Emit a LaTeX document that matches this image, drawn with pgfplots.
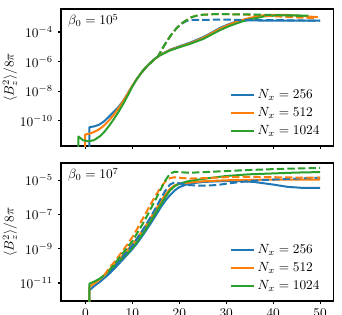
\documentclass[border=0pt]{standalone}
\usepackage{pgfplots}
\pgfplotsset{compat=1.18}
\definecolor{c0}{HTML}{1F77B4}
\definecolor{c1}{HTML}{FF7F0E}
\definecolor{c2}{HTML}{2CA02C}
\pgfplotsset{
  myax/.style={
    scale only axis, width=204.2pt,
    xmin=-5.2, xmax=52.8,
    tick align=outside, tick pos=left,
    major tick length=2.6pt,
    yminorticks=false, xminorticks=false,
    axis line style={line width=0.8pt},
    every tick/.style={black, line width=0.8pt},
    xtick={0,10,20,30,40,50},
    ylabel={$\langle B_z^2\rangle/8\pi$},
    y label style={at={(axis description cs:-0.1875,0.5)}, anchor=center},
    legend style={draw=none, fill=none, at={(axis description cs:0.975,0.03)}, anchor=south east, row sep=1.2pt},
    legend cell align=left,
    every axis plot/.append style={line width=1.5pt, line join=round},
  },
  dsh/.style={dash pattern=on 5.55pt off 2.4pt}
}
\begin{document}
\begin{tikzpicture}
\begin{axis}[ymode=log, myax, at={(45.75pt,126pt)}, anchor=south west, height=102.75pt,
  ymin=2.04e-12, ymax=3.55e-3, ytick={1e-10,1e-8,1e-6,1e-4}, xticklabels={}]
\addplot[c0] coordinates {(0.85,1e-12)(0.85,3.80e-11)(2,4.37e-11)(3,5.75e-11)(4,9.55e-11)(5,1.91e-10)(6,3.98e-10)(7,8.51e-10)(8,2.14e-9)(9,6.92e-9)(10,2.34e-8)(11,7.08e-8)(12,1.91e-7)(13,4.47e-7)(14,9.12e-7)(15,1.74e-6)(15.5,2.29e-6)(16.5,3.55e-6)(18,6.31e-6)(20,1.07e-5)(22.3,1.91e-5)(25.1,4.47e-5)(26.9,9.12e-5)(28.7,1.91e-4)(30.5,3.31e-4)(32.2,5.25e-4)(33.6,5.89e-4)(35,6.03e-4)(38,5.89e-4)(40,5.75e-4)(45,5.75e-4)(50,5.75e-4)};
\addlegendentry{$N_x = 256$}
\addplot[c1] coordinates {(-0.06,1e-12)(-0.06,1.20e-11)(1,1.41e-11)(2,1.91e-11)(3,2.82e-11)(4,5.01e-11)(5,1.05e-10)(6,2.51e-10)(7,6.76e-10)(8,2.0e-9)(9,6.92e-9)(10,2.34e-8)(11,7.08e-8)(12,1.91e-7)(13,4.47e-7)(14,9.12e-7)(15,1.74e-6)(15.5,2.29e-6)(16.5,3.47e-6)(18,6.03e-6)(20,1e-5)(22.3,1.74e-5)(25.1,3.98e-5)(26.9,8.32e-5)(28.7,1.70e-4)(30.5,3.02e-4)(32.2,5.01e-4)(33.6,6.76e-4)(35,8.91e-4)(38,1.35e-3)(40,1.45e-3)(43,1.41e-3)(46,1.20e-3)(49.5,1e-3)};
\addlegendentry{$N_x = 512$}
\addplot[c2] coordinates {(-1.5,1e-12)(-1.5,8.91e-12)(-0.5,5.01e-12)(0.6,4.27e-12)(1.8,5.01e-12)(3.1,9.33e-12)(4,1.78e-11)(5,4.47e-11)(6,1.26e-10)(7,3.80e-10)(8,1.32e-9)(9,5.01e-9)(10,2.09e-8)(11,7.08e-8)(12,1.91e-7)(13,4.47e-7)(14,9.12e-7)(15,1.74e-6)(15.5,2.29e-6)(16.5,3.31e-6)(18,5.62e-6)(20,9.33e-6)(22.3,1.58e-5)(25.1,3.39e-5)(26.9,6.76e-5)(28.7,1.35e-4)(30.5,2.40e-4)(32.2,3.80e-4)(33.6,5.37e-4)(35,7.08e-4)(38,1.12e-3)(41,1.32e-3)(44,1.32e-3)(47.5,1.26e-3)};
\addlegendentry{$N_x = 1024$}
\addplot[c0, dsh, forget plot] coordinates {(12,1.91e-7)(13,4.47e-7)(14,9.12e-7)(15,1.74e-6)(15.5,2.29e-6)(16.4,7.59e-6)(17.3,2.24e-5)(18.3,6.61e-5)(19.4,1.78e-4)(20.5,3.55e-4)(21.6,5.62e-4)(23,6.61e-4)(30,6.76e-4)(40,6.31e-4)(50,5.75e-4)};
\addplot[c1, dsh, forget plot] coordinates {(12,1.91e-7)(13,4.47e-7)(14,9.12e-7)(15,1.74e-6)(15.5,2.29e-6)(16.4,7.59e-6)(17.3,2.24e-5)(18.3,6.61e-5)(19.4,1.78e-4)(20.5,3.80e-4)(21.6,6.46e-4)(22.6,1e-3)(23.7,1.26e-3)(25,1.45e-3)(27.2,1.58e-3)(30,1.58e-3)(33,1.55e-3)(36,1.38e-3)(40,1.17e-3)(45,9.55e-4)(49.2,8.51e-4)};
\addplot[c2, dsh, forget plot] coordinates {(12,1.91e-7)(13,4.47e-7)(14,9.12e-7)(15,1.74e-6)(15.5,2.29e-6)(16.4,7.59e-6)(17.3,2.24e-5)(18.3,6.61e-5)(19.4,1.78e-4)(20.5,3.80e-4)(21.6,6.46e-4)(22.6,1e-3)(23.7,1.26e-3)(25,1.45e-3)(27.2,1.58e-3)(30,1.58e-3)(33,1.55e-3)(36,1.51e-3)(40,1.38e-3)(44,1.26e-3)(47.3,1.17e-3)};
\node[anchor=north west, inner sep=0pt] at (axis description cs:0.025,0.965) {$\beta_0 = 10^5$};
\end{axis}
\begin{axis}[ymode=log, myax, at={(45.75pt,9.75pt)}, anchor=south west, height=103.5pt,
  ymin=8.9e-13, ymax=1.02e-4, ytick={1e-11,1e-9,1e-7,1e-5}]
\addplot[c0] coordinates {(0.85,1e-13)(0.85,3.80e-12)(2,7.08e-12)(3,1.12e-11)(4,1.91e-11)(5,3.31e-11)(6,6.31e-11)(7,1.20e-10)(8,2.40e-10)(9,4.79e-10)(10,9.55e-10)(11,2.09e-9)(12,5.01e-9)(13,1.26e-8)(14,3.31e-8)(15,8.91e-8)(16,2.51e-7)(17,6.31e-7)(18,1.32e-6)(19,2.51e-6)(20,3.98e-6)(22,6.31e-6)(25,7.94e-6)(30,9.12e-6)(33,8.91e-6)(36,7.94e-6)(40,5.62e-6)(43,4.17e-6)(46,3.63e-6)(50,3.55e-6)};
\addlegendentry{$N_x = 256$}
\addplot[c1] coordinates {(0.85,1e-13)(0.85,5.89e-12)(2,1e-11)(3,1.58e-11)(4,2.82e-11)(5,5.25e-11)(6,1.05e-10)(7,2.09e-10)(8,4.27e-10)(9,8.71e-10)(10,1.78e-9)(11,3.98e-9)(12,1e-8)(13,2.51e-8)(14,7.08e-8)(15,2.0e-7)(16,5.62e-7)(17,1.41e-6)(18,3.16e-6)(19,5.01e-6)(20,6.31e-6)(22,7.24e-6)(25,8.71e-6)(30,1e-5)(35,1.05e-5)(40,1.10e-5)(50,1.10e-5)};
\addlegendentry{$N_x = 512$}
\addplot[c2] coordinates {(0.85,1e-13)(0.85,9.12e-12)(2,1.26e-11)(3,1.78e-11)(4,2.82e-11)(5,5.01e-11)(6,8.91e-11)(7,1.58e-10)(8,3.16e-10)(9,5.62e-10)(10,1.12e-9)(11,2.51e-9)(12,6.31e-9)(13,1.58e-8)(14,4.47e-8)(15,1.26e-7)(16,3.55e-7)(17,1.0e-6)(18,2.51e-6)(19,4.47e-6)(20,6.31e-6)(22,8.91e-6)(25,1.20e-5)(30,1.78e-5)(35,2.24e-5)(40,2.51e-5)(45,2.82e-5)(50,3.02e-5)};
\addlegendentry{$N_x = 1024$}
\addplot[c0, dsh, forget plot] coordinates {(5,3.31e-11)(6,7.59e-11)(8,3.55e-10)(10,1.58e-9)(12,1e-8)(14,7.94e-8)(15,2.51e-7)(16,7.94e-7)(17,2.40e-6)(18,5.62e-6)(19,7.59e-6)(20,6.61e-6)(22,5.25e-6)(25,4.79e-6)(28,5.25e-6)(30,6.31e-6)(33,7.94e-6)(36,9.55e-6)(40,1.10e-5)(45,1.26e-5)(50,1.41e-5)};
\addplot[c1, dsh, forget plot] coordinates {(4,2.82e-11)(5,7.08e-11)(6,1.51e-10)(7,3.39e-10)(8,7.94e-10)(9,1.91e-9)(10,4.79e-9)(11,1.41e-8)(12,4.47e-8)(13,1.41e-7)(14,4.47e-7)(15,1.32e-6)(16,3.72e-6)(17,8.32e-6)(18,1.32e-5)(19,1.51e-5)(20,1.41e-5)(22,1.26e-5)(25,1.32e-5)(30,1.51e-5)(35,1.58e-5)(40,1.51e-5)(45,1.45e-5)(50,1.41e-5)};
\addplot[c2, dsh, forget plot] coordinates {(5,5.01e-11)(6,1.12e-10)(8,5.62e-10)(10,2.82e-9)(12,2.24e-8)(13,7.08e-8)(14,2.40e-7)(15,7.94e-7)(16,2.82e-6)(17,9.55e-6)(18,2.40e-5)(19,3.16e-5)(20,3.02e-5)(22,2.75e-5)(25,2.95e-5)(30,3.47e-5)(35,3.98e-5)(40,4.47e-5)(45,4.90e-5)(50,5.25e-5)};
\node[anchor=north west, inner sep=0pt] at (axis description cs:0.025,0.965) {$\beta_0 = 10^7$};
\end{axis}
\pgfresetboundingbox
\path[use as bounding box] (0,0) rectangle (256.5pt,235.5pt);
\end{tikzpicture}
\end{document}
